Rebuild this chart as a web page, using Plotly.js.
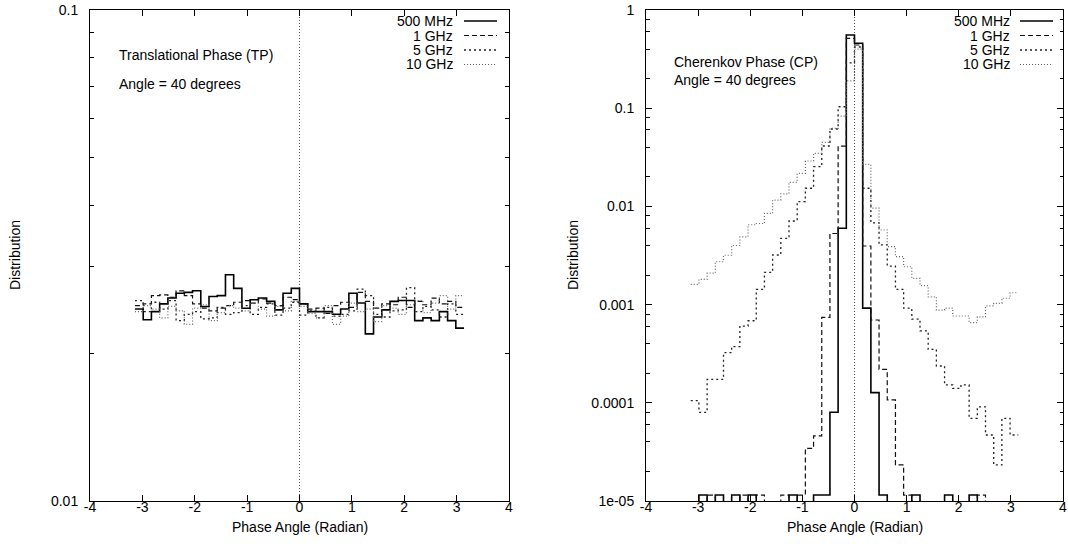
<!DOCTYPE html>
<html>
<head>
<meta charset="utf-8">
<script src="https://cdn.plot.ly/plotly-3.0.1.min.js"></script>
<style>
html,body{margin:0;padding:0;background:#fff;}
#chart{width:1068px;height:544px;}
</style>
</head>
<body>
<div id="chart"></div>
<script>
// ---------------- DATA ----------------
const seriesNames = ['500 MHz', '1 GHz', '5 GHz', '10 GHz'];
const nBins = 40; // bins across [-pi, pi]

// Left panel: Translational Phase (TP), angle = 40 degrees
const tp500MHz = [0.0246, 0.0234, 0.0243, 0.0252, 0.0259, 0.0265, 0.0266, 0.0268, 0.0249, 0.0261,
                  0.0262, 0.0289, 0.0271, 0.0247, 0.0257, 0.0259, 0.0255, 0.0245, 0.0265, 0.0271,
                  0.0252, 0.0243, 0.0243, 0.0243, 0.0240, 0.0246, 0.0265, 0.0253, 0.0219, 0.0237,
                  0.0245, 0.0255, 0.0256, 0.0256, 0.0233, 0.0236, 0.0233, 0.0243, 0.0233, 0.0225];
const tp1GHz   = [0.0250, 0.0252, 0.0262, 0.0263, 0.0260, 0.0268, 0.0262, 0.0252, 0.0247, 0.0244,
                  0.0247, 0.0250, 0.0254, 0.0256, 0.0253, 0.0258, 0.0253, 0.0250, 0.0260, 0.0257,
                  0.0252, 0.0246, 0.0247, 0.0241, 0.0250, 0.0254, 0.0248, 0.0266, 0.0255, 0.0247,
                  0.0252, 0.0251, 0.0260, 0.0248, 0.0255, 0.0251, 0.0259, 0.0252, 0.0255, 0.0248];
const tp5GHz   = [0.0256, 0.0243, 0.0254, 0.0246, 0.0256, 0.0233, 0.0240, 0.0243, 0.0235, 0.0236,
                  0.0248, 0.0240, 0.0242, 0.0250, 0.0240, 0.0248, 0.0252, 0.0239, 0.0247, 0.0254,
                  0.0239, 0.0244, 0.0236, 0.0248, 0.0238, 0.0240, 0.0244, 0.0270, 0.0262, 0.0240,
                  0.0237, 0.0244, 0.0245, 0.0272, 0.0243, 0.0249, 0.0245, 0.0237, 0.0252, 0.0240];
const tp10GHz  = [0.0243, 0.0250, 0.0246, 0.0236, 0.0249, 0.0244, 0.0229, 0.0247, 0.0251, 0.0233,
                  0.0242, 0.0250, 0.0247, 0.0244, 0.0253, 0.0246, 0.0238, 0.0249, 0.0244, 0.0255,
                  0.0249, 0.0241, 0.0236, 0.0250, 0.0229, 0.0238, 0.0253, 0.0243, 0.0246, 0.0232,
                  0.0250, 0.0247, 0.0240, 0.0251, 0.0256, 0.0242, 0.0253, 0.0262, 0.0246, 0.0262];

// Right panel: Cherenkov Phase (CP), angle = 40 degrees (0 = empty bin)
const cp500MHz = [0, 1.15e-5, 0, 1.15e-5, 0, 1.15e-5, 0, 1.15e-5, 0, 0,
                  0, 0, 1.15e-5, 0, 0, 1.15e-5, 1.15e-5, 8.0e-5, 6.0e-3, 0.556,
                  0.458, 9.2e-4, 1.27e-4, 1.15e-5, 0, 0, 0, 1.15e-5, 0, 0,
                  0, 1.15e-5, 0, 0, 1.15e-5, 0, 0, 0, 0, 0];
const cp1GHz   = [0, 0, 1.15e-5, 0, 0, 0, 1.15e-5, 0, 1.15e-5, 0,
                  0, 1.15e-5, 0, 1.15e-5, 3.44e-5, 4.6e-5, 7.4e-4, 5.3e-3, 0.041, 0.515,
                  0.44, 3.95e-3, 6.97e-4, 2.19e-4, 1.07e-4, 2.33e-5, 1.15e-5, 0, 0, 0,
                  0, 0, 0, 0, 0, 1.15e-5, 0, 0, 0, 0];
const cp5GHz   = [1.05e-4, 8.0e-5, 1.73e-4, 1.73e-4, 3.24e-4, 3.73e-4, 6.05e-4, 6.85e-4, 1.43e-3, 2.13e-3,
                  3.2e-3, 4.73e-3, 7.1e-3, 1.12e-2, 1.53e-2, 2.54e-2, 4.12e-2, 6.14e-2, 0.1035, 0.29,
                  0.42, 1.53e-2, 6.8e-3, 4.05e-3, 2.47e-3, 1.43e-3, 9.2e-4, 7.1e-4, 5.4e-4, 3.5e-4,
                  2.37e-4, 1.52e-4, 1.4e-4, 1.52e-4, 6.95e-5, 9.1e-5, 4.7e-5, 2.33e-5, 6.95e-5, 4.7e-5];
const cp10GHz  = [1.61e-3, 1.81e-3, 2.09e-3, 2.73e-3, 3.18e-3, 4.0e-3, 4.9e-3, 6.5e-3, 6.7e-3, 8.5e-3,
                  1.16e-2, 1.34e-2, 1.76e-2, 2.17e-2, 2.9e-2, 3.47e-2, 4.49e-2, 6.24e-2, 8.3e-2, 0.19,
                  0.40, 2.68e-2, 9.6e-3, 5.75e-3, 3.9e-3, 3.08e-3, 2.43e-3, 1.85e-3, 1.56e-3, 1.2e-3,
                  8.8e-4, 9.2e-4, 7.65e-4, 7.65e-4, 6.55e-4, 7.5e-4, 9.7e-4, 1.03e-3, 1.16e-3, 1.32e-3];

const xTicks = [-4, -3, -2, -1, 0, 1, 2, 3, 4];
const tpYTickVals = [0.01, 0.1];
const tpYTickText = ['0.01', '0.1'];
const cpYTickVals = [1e-5, 1e-4, 1e-3, 1e-2, 1e-1, 1];
const cpYTickText = ['1e-05', '0.0001', '0.001', '0.01', '0.1', '1'];
const panelLabels = [['Translational Phase (TP)', 'Angle = 40 degrees'],
                     ['Cherenkov Phase (CP)', 'Angle = 40 degrees']];
const xTitle = 'Phase Angle (Radian)';
const yTitle = 'Distribution';

// ---------------- STYLE / BUILD ----------------
const W = 1068, H = 544;
const FONT = 'Liberation Sans, Arial, Helvetica, sans-serif';
const styles = [
  {color: '#000000', width: 1.6, dash: 'solid'},
  {color: '#111111', width: 1.2, dash: '5px,3px'},
  {color: '#222222', width: 1.3, dash: '2px,3px'},
  {color: '#666666', width: 1.2, dash: '1px,2px'}
];

const edges = [];
for (let k = 0; k <= nBins; k++) edges.push(-Math.PI + k * 2 * Math.PI / nBins);
function stepY(vals) {
  const v = vals.map(d => d > 0 ? d : 1e-9); // empty bins drop below the axis
  return v.concat([v[v.length - 1]]);
}

const tpSeries = [tp500MHz, tp1GHz, tp5GHz, tp10GHz];
const cpSeries = [cp500MHz, cp1GHz, cp5GHz, cp10GHz];
const traces = [];
tpSeries.forEach((s, i) => traces.push({
  x: edges, y: stepY(s), type: 'scatter', mode: 'lines', name: seriesNames[i],
  line: {shape: 'hv', color: styles[i].color, width: styles[i].width, dash: styles[i].dash},
  xaxis: 'x', yaxis: 'y', showlegend: false, hoverinfo: 'skip'
}));
cpSeries.forEach((s, i) => traces.push({
  x: edges, y: stepY(s), type: 'scatter', mode: 'lines', name: seriesNames[i],
  line: {shape: 'hv', color: styles[i].color, width: styles[i].width, dash: styles[i].dash},
  xaxis: 'x2', yaxis: 'y2', showlegend: false, hoverinfo: 'skip'
}));

function minorVals(lo, hi, digits) {
  const out = [];
  for (let e = lo; e < hi; e++) digits.forEach(d => out.push(d * Math.pow(10, e)));
  return out;
}

const plotTop = 10, plotBot = 501;
const panels = [{l: 90, r: 509}, {l: 646, r: 1063}];
const yDom = [1 - plotBot / H, 1 - plotTop / H];

const xBase = {
  range: [-4, 4], tickmode: 'array', tickvals: xTicks, ticktext: xTicks.map(String),
  ticks: 'inside', ticklen: 6, tickwidth: 1, tickcolor: '#000',
  showline: true, linecolor: '#000', linewidth: 1, mirror: 'ticks',
  showgrid: false, zeroline: false, tickfont: {family: FONT, size: 14, color: '#000'},
  ticklabelstandoff: -7, fixedrange: true
};
const yBase = {
  type: 'log', tickmode: 'array',
  ticks: 'inside', ticklen: 6, tickwidth: 1, tickcolor: '#000',
  showline: true, linecolor: '#000', linewidth: 1, mirror: 'ticks',
  showgrid: false, zeroline: false, tickfont: {family: FONT, size: 14, color: '#000'},
  ticklabelstandoff: 8, fixedrange: true
};

const layout = {
  width: W, height: H,
  margin: {l: 0, r: 0, t: 0, b: 0, pad: 0},
  paper_bgcolor: '#fff', plot_bgcolor: '#fff',
  font: {family: FONT, size: 14, color: '#000'},
  showlegend: false,
  xaxis: Object.assign({}, xBase, {domain: [panels[0].l / W, panels[0].r / W], anchor: 'y'}),
  yaxis: Object.assign({}, yBase, {domain: yDom, anchor: 'x', range: [-2, -1],
    tickvals: tpYTickVals, ticktext: tpYTickText,
    minor: {tickmode: 'array', tickvals: minorVals(-2, -1, [2,3,4,5,6,7,8,9]), ticks: 'inside', ticklen: 4, tickcolor: '#000'}}),
  xaxis2: Object.assign({}, xBase, {domain: [panels[1].l / W, panels[1].r / W], anchor: 'y2'}),
  yaxis2: Object.assign({}, yBase, {domain: yDom, anchor: 'x2', range: [-5, 0],
    tickvals: cpYTickVals, ticktext: cpYTickText,
    minor: {tickmode: 'array', tickvals: minorVals(-5, 0, [2,4,6,8]), ticks: 'inside', ticklen: 3.5, tickcolor: '#000'}}),
  shapes: [],
  annotations: []
};

// zero reference lines
['', '2'].forEach(s => layout.shapes.push({
  type: 'line', xref: 'x' + s, yref: 'y' + s + ' domain', x0: 0, x1: 0, y0: 0, y1: 1,
  line: {color: '#555', width: 1, dash: '1px,2px'}, layer: 'below'
}));

// axis titles, panel labels, legends
const legendRows = [21, 35.5, 50, 64.5];
const legendTextRight = [455, 1012];
const legendLine = [[464, 497], [1020, 1053]];
const labelLeft = [117, 672];
const labelRows = [[55, 83.5], [62.5, 80]];
const yTitleX = [15, 573];

panels.forEach((p, pi) => {
  const cx = (p.l + p.r) / 2;
  layout.annotations.push({
    text: xTitle, xref: 'paper', yref: 'paper', x: cx / W, y: 1 - 527 / H,
    xanchor: 'center', yanchor: 'middle', showarrow: false, font: {family: FONT, size: 14, color: '#000'}
  });
  layout.annotations.push({
    text: yTitle, xref: 'paper', yref: 'paper', x: yTitleX[pi] / W, y: 1 - 255 / H, textangle: -90,
    xanchor: 'center', yanchor: 'middle', showarrow: false, font: {family: FONT, size: 14, color: '#000'}
  });
  panelLabels[pi].forEach((t, li) => layout.annotations.push({
    text: t, xref: 'paper', yref: 'paper', x: labelLeft[pi] / W, y: 1 - labelRows[pi][li] / H,
    xanchor: 'left', yanchor: 'middle', showarrow: false, font: {family: FONT, size: 14, color: '#000'}
  }));
  seriesNames.forEach((n, si) => {
    layout.annotations.push({
      text: n, xref: 'paper', yref: 'paper', x: legendTextRight[pi] / W, y: 1 - legendRows[si] / H,
      xanchor: 'right', yanchor: 'middle', showarrow: false, font: {family: FONT, size: 14, color: '#000'}
    });
    layout.shapes.push({
      type: 'line', xref: 'paper', yref: 'paper',
      x0: legendLine[pi][0] / W, x1: legendLine[pi][1] / W,
      y0: 1 - legendRows[si] / H, y1: 1 - legendRows[si] / H,
      line: {color: styles[si].color, width: styles[si].width, dash: styles[si].dash}
    });
  });
});

Plotly.newPlot('chart', traces, layout, {displayModeBar: false, staticPlot: true});
</script>
</body>
</html>
